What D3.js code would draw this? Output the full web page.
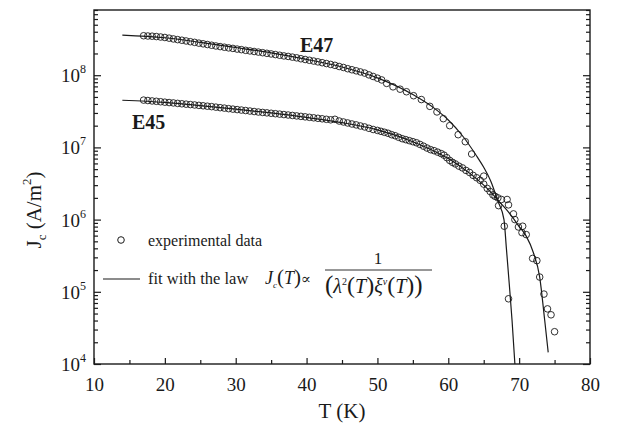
<!DOCTYPE html>
<html>
<head>
<meta charset="utf-8">
<script src="https://cdn.jsdelivr.net/npm/d3@7"></script>
<style>
  html, body { margin: 0; padding: 0; background: #fff; }
  svg text { font-family: "Liberation Serif", "DejaVu Serif", serif !important; }
</style>
</head>
<body>
<svg id="chart" width="622" height="431"></svg>
<script>
// Critical current density vs temperature for two samples (E47, E45)

// Axis ticks
const xTicks = [10, 20, 30, 40, 50, 60, 70, 80];
const xMinorTicks = [15, 25, 35, 45, 55, 65, 75];
const yDecades = [4, 5, 6, 7, 8];

// Sample E47: measured points
const tE47 = [17.0, 17.6, 18.2, 18.8, 19.4, 20.0, 20.6, 21.2, 21.8, 22.4, 23.0, 23.6, 24.2, 24.8, 25.4,
  26.0, 26.6, 27.2, 27.8, 28.4, 29.0, 29.6, 30.2, 30.8, 31.4, 32.0, 32.6, 33.2, 33.8, 34.4, 35.0,
  35.6, 36.2, 36.8, 37.4, 38.0, 38.6, 39.2, 39.8, 40.4, 41.0, 41.6, 42.2, 42.8, 43.4, 44.0, 44.6,
  45.2, 45.8, 46.4, 47.0, 47.6, 48.2, 48.8, 49.4, 50.0, 50.6, 51.3, 52.2, 53.2, 54.1, 55.1, 56.2,
  57.4, 58.4, 59.3, 60.2, 61.4, 62.4, 63.3, 65.0, 67.1, 67.9, 68.5];
const jE47 = [3.52e8, 3.49e8, 3.47e8, 3.43e8, 3.38e8, 3.33e8, 3.26e8, 3.18e8, 3.11e8, 3.05e8, 2.98e8,
  2.91e8, 2.85e8, 2.78e8, 2.72e8, 2.66e8, 2.60e8, 2.54e8, 2.49e8, 2.44e8, 2.39e8, 2.35e8, 2.30e8,
  2.26e8, 2.21e8, 2.17e8, 2.13e8, 2.09e8, 2.05e8, 2.01e8, 1.97e8, 1.93e8, 1.89e8, 1.85e8, 1.82e8,
  1.78e8, 1.74e8, 1.69e8, 1.65e8, 1.61e8, 1.57e8, 1.53e8, 1.49e8, 1.45e8, 1.41e8, 1.37e8, 1.32e8,
  1.28e8, 1.23e8, 1.19e8, 1.15e8, 1.11e8, 1.07e8, 1.01e8, 9.6e7, 9.1e7, 8.6e7, 7.7e7, 6.9e7,
  6.4e7, 5.9e7, 5.2e7, 4.6e7, 3.7e7, 3.1e7, 2.5e7, 2.0e7, 1.5e7, 1.2e7, 8.1e6, 4.0e6, 1.56e6,
  8.1e5, 8.0e4];

// Sample E45: measured points
const tE45 = [17.0, 17.6, 18.2, 18.8, 19.4, 20.0, 20.6, 21.2, 21.8, 22.4, 23.0, 23.6, 24.2, 24.8, 25.4,
  26.0, 26.6, 27.2, 27.8, 28.4, 29.0, 29.6, 30.2, 30.8, 31.4, 32.0, 32.6, 33.2, 33.8, 34.4, 35.0,
  35.6, 36.2, 36.8, 37.4, 38.0, 38.6, 39.2, 39.8, 40.4, 41.0, 41.6, 42.2, 42.8, 43.4, 44.0, 44.6,
  45.2, 45.8, 46.4, 47.0, 47.6, 48.2, 48.8, 49.4, 50.0, 50.5, 51.0, 51.5, 52.0, 52.5, 53.0, 53.5,
  54.0, 54.5, 55.0, 55.5, 56.0, 56.5, 57.0, 57.5, 58.0, 58.5, 59.0, 59.4, 59.8, 60.2, 60.6, 61.0,
  61.5, 62.0, 62.5, 63.0, 63.5, 64.0, 64.5, 65.0, 65.5, 65.9, 66.3, 66.6, 67.0, 67.5, 68.3, 68.5,
  69.2, 69.4, 69.9, 70.4, 70.5, 71.0, 71.9, 72.5, 72.9, 73.5, 74.0, 74.5, 75.0];
const jE45 = [4.52e7, 4.46e7, 4.40e7, 4.35e7, 4.29e7, 4.23e7, 4.18e7, 4.13e7, 4.07e7, 4.02e7, 3.97e7,
  3.92e7, 3.87e7, 3.82e7, 3.77e7, 3.72e7, 3.67e7, 3.61e7, 3.55e7, 3.50e7, 3.44e7, 3.39e7, 3.34e7,
  3.29e7, 3.24e7, 3.19e7, 3.14e7, 3.09e7, 3.05e7, 3.01e7, 2.97e7, 2.93e7, 2.89e7, 2.85e7, 2.81e7,
  2.77e7, 2.73e7, 2.69e7, 2.65e7, 2.61e7, 2.57e7, 2.53e7, 2.49e7, 2.45e7, 2.41e7, 2.45e7, 2.32e7,
  2.25e7, 2.18e7, 2.11e7, 2.05e7, 1.98e7, 1.92e7, 1.84e7, 1.77e7, 1.72e7, 1.67e7, 1.62e7, 1.57e7,
  1.50e7, 1.45e7, 1.38e7, 1.32e7, 1.28e7, 1.24e7, 1.20e7, 1.16e7, 1.10e7, 1.04e7, 9.8e6, 9.3e6,
  9.0e6, 8.6e6, 8.2e6, 7.8e6, 7.2e6, 6.6e6, 6.2e6, 5.9e6, 5.5e6, 5.2e6, 4.8e6, 4.5e6, 4.1e6,
  3.8e6, 3.5e6, 3.1e6, 2.7e6, 2.45e6, 2.2e6, 2.1e6, 2.0e6, 1.9e6, 1.9e6, 1.6e6, 1.2e6, 1.0e6,
  7.9e5, 6.6e5, 8.1e5, 6.2e5, 2.9e5, 2.7e5, 1.6e5, 9.3e4, 5.8e4, 4.8e4, 2.8e4];

// Fitted curves
const tFitE47 = [14, 20, 25, 30, 35, 40, 45, 50, 55, 58, 60, 62, 64, 65, 66, 67, 67.86, 68.2, 68.6, 69.0, 69.4];
const jFitE47 = [3.6e8, 3.3e8, 2.85e8, 2.42e8, 2.04e8, 1.66e8, 1.3e8, 9.2e7, 5.4e7, 3.5e7, 2.4e7,
  1.45e7, 7.6e6, 5.3e6, 3.4e6, 1.8e6, 1.0e6, 4.0e5, 1.3e5, 4.0e4, 1.0e4];
const tFitE45 = [14, 20, 25, 30, 35, 40, 45, 50, 55, 60, 63, 65, 66, 67, 68, 69, 70, 71, 72, 72.9, 73.6, 74.1];
const jFitE45 = [4.5e7, 4.2e7, 3.8e7, 3.4e7, 3.0e7, 2.6e7, 2.2e7, 1.75e7, 1.2e7, 7.0e6, 4.4e6, 3.0e6,
  2.4e6, 1.85e6, 1.45e6, 1.1e6, 8.0e5, 5.9e5, 3.5e5, 1.6e5, 4.1e4, 1.45e4];

const seriesLabels = ["E47", "E45"];
const legendLabels = ["experimental data", "fit with the law"];

const svg = d3.select("#chart");
const margin = { left: 94, right: 32, top: 10, bottom: 67 };
const W = 622, H = 431;
const x0 = margin.left, x1 = W - margin.right, y0 = H - margin.bottom, y1 = margin.top;

const x = d3.scaleLinear().domain([10, 80]).range([x0, x1]);
const y = d3.scaleLog().domain([1e4, 8e8]).range([y0, y1]);

const ink = "#1a1a1a";

// Minor log ticks: 2..9 x 10^n
const yMinor = [];
for (let d = 4; d <= 8; d++) for (let m = 2; m <= 9; m++) {
  const v = m * Math.pow(10, d);
  if (v <= 8e8) yMinor.push(v);
}

// Frame
svg.append("rect").attr("x", x0).attr("y", y1).attr("width", x1 - x0).attr("height", y0 - y1)
  .attr("fill", "none").attr("stroke", ink).attr("stroke-width", 1.4);

// Bottom axis (ticks point inward)
const gx = svg.append("g").attr("transform", `translate(0,${y0})`)
  .call(d3.axisBottom(x).tickValues(xTicks).tickSize(-6).tickPadding(14).tickFormat(d3.format("d")));
gx.append("g").call(d3.axisBottom(x).tickValues(xMinorTicks).tickSize(-4).tickFormat(""));
gx.selectAll(".domain").remove();
gx.selectAll("line").attr("stroke", ink).attr("stroke-width", 1.2);
gx.selectAll("text").attr("font-size", 19).attr("fill", ink);

// Left axis
const gy = svg.append("g").attr("transform", `translate(${x0},0)`);
gy.call(d3.axisLeft(y).tickValues(yDecades.map(d => Math.pow(10, d))).tickSize(-7).tickFormat(""));
gy.append("g").call(d3.axisLeft(y).tickValues(yMinor).tickSize(-4).tickFormat(""));
gy.selectAll(".domain").remove();
gy.selectAll("line").attr("stroke", ink).attr("stroke-width", 1.2);

// Right axis
const gr = svg.append("g").attr("transform", `translate(${x1},0)`);
gr.call(d3.axisRight(y).tickValues(yDecades.map(d => Math.pow(10, d))).tickSize(-7).tickFormat(""));
gr.append("g").call(d3.axisRight(y).tickValues(yMinor).tickSize(-4).tickFormat(""));
gr.selectAll(".domain").remove();
gr.selectAll("line").attr("stroke", ink).attr("stroke-width", 1.2);

// Y tick labels 10^n
const yl = svg.append("g");
yDecades.forEach(d => {
  const t = yl.append("text").attr("x", x0 - 8).attr("y", y(Math.pow(10, d)) + 7)
    .attr("text-anchor", "end").attr("font-size", 19).attr("fill", ink);
  t.append("tspan").text("10");
  t.append("tspan").attr("font-size", 12).attr("dy", -9).text(d);
});

// Axis titles
svg.append("text").attr("x", (x0 + x1) / 2).attr("y", 418).attr("text-anchor", "middle")
  .attr("font-size", 21).attr("fill", ink).text("T (K)");
const yt = svg.append("text").attr("transform", `translate(41,210) rotate(-90)`)
  .attr("text-anchor", "middle").attr("font-size", 21).attr("fill", ink);
yt.append("tspan").text("J");
yt.append("tspan").attr("font-size", 13).attr("dy", 5).text("c");
yt.append("tspan").attr("dy", -5).text(" (A/m");
yt.append("tspan").attr("font-size", 13).attr("dy", -10).text("2");
yt.append("tspan").attr("dy", 10).text(")");

// Fit lines
const line = d3.line().x(d => x(d[0])).y(d => y(d[1])).curve(d3.curveMonotoneX);
[[tFitE47, jFitE47], [tFitE45, jFitE45]].forEach(([t, j]) => {
  svg.append("path").datum(t.map((v, i) => [v, j[i]])).attr("d", line)
    .attr("fill", "none").attr("stroke", ink).attr("stroke-width", 1.2);
});

// Data points
[[tE47, jE47], [tE45, jE45]].forEach(([t, j]) => {
  svg.append("g").selectAll("circle").data(t.map((v, i) => [v, j[i]])).join("circle")
    .attr("cx", d => x(d[0])).attr("cy", d => y(d[1])).attr("r", 3.3)
    .attr("fill", "none").attr("stroke", ink).attr("stroke-width", 0.9);
});

// Series labels
svg.append("text").attr("x", 300).attr("y", 52).attr("font-size", 20).attr("font-weight", "bold")
  .attr("fill", ink).text(seriesLabels[0]);
svg.append("text").attr("x", 132).attr("y", 129).attr("font-size", 20).attr("font-weight", "bold")
  .attr("fill", ink).text(seriesLabels[1]);

// Legend
const lg = svg.append("g").attr("font-size", 16).attr("fill", ink);
lg.append("circle").attr("cx", 121).attr("cy", 240).attr("r", 3.3)
  .attr("fill", "none").attr("stroke", ink).attr("stroke-width", 1);
lg.append("text").attr("x", 148).attr("y", 246).text(legendLabels[0]);
lg.append("line").attr("x1", 103).attr("x2", 140).attr("y1", 279).attr("y2", 279)
  .attr("stroke", ink).attr("stroke-width", 1.2);
lg.append("text").attr("x", 148).attr("y", 284).attr("font-size", 16.5).text(legendLabels[1]);

// Formula: Jc(T) ∝ 1 / (λ²(T) ξ^ν(T))
const f1 = lg.append("text").attr("x", 265).attr("y", 284).attr("font-size", 18);
f1.append("tspan").attr("font-style", "italic").text("J");
f1.append("tspan").attr("font-size", 9).attr("dy", 4).attr("font-style", "italic").text("c");
f1.append("tspan").attr("dy", -4).attr("font-size", 21).text("(");
f1.append("tspan").attr("font-style", "italic").text("T");
f1.append("tspan").attr("font-size", 21).text(")");
f1.append("tspan").attr("font-size", 15).text("∝");
lg.append("text").attr("x", 378).attr("y", 264).attr("text-anchor", "middle").attr("font-size", 17).text("1");
lg.append("line").attr("x1", 325).attr("x2", 432).attr("y1", 270).attr("y2", 270)
  .attr("stroke", ink).attr("stroke-width", 0.9);
const f2 = lg.append("text").attr("x", 325).attr("y", 293).attr("font-size", 20);
f2.append("tspan").attr("font-size", 25).text("(");
f2.append("tspan").attr("font-style", "italic").text("λ");
f2.append("tspan").attr("font-size", 10).attr("dy", -8).text("2");
f2.append("tspan").attr("dy", 8).attr("font-size", 24).text("(");
f2.append("tspan").attr("font-style", "italic").text("T");
f2.append("tspan").attr("font-size", 24).text(")");
f2.append("tspan").attr("font-style", "italic").text("ξ");
f2.append("tspan").attr("font-size", 10).attr("dy", -8).attr("font-style", "italic").text("ν");
f2.append("tspan").attr("dy", 8).attr("font-size", 24).text("(");
f2.append("tspan").attr("font-style", "italic").text("T");
f2.append("tspan").attr("font-size", 24).text(")");
f2.append("tspan").attr("font-size", 25).text(")");
</script>
</body>
</html>
